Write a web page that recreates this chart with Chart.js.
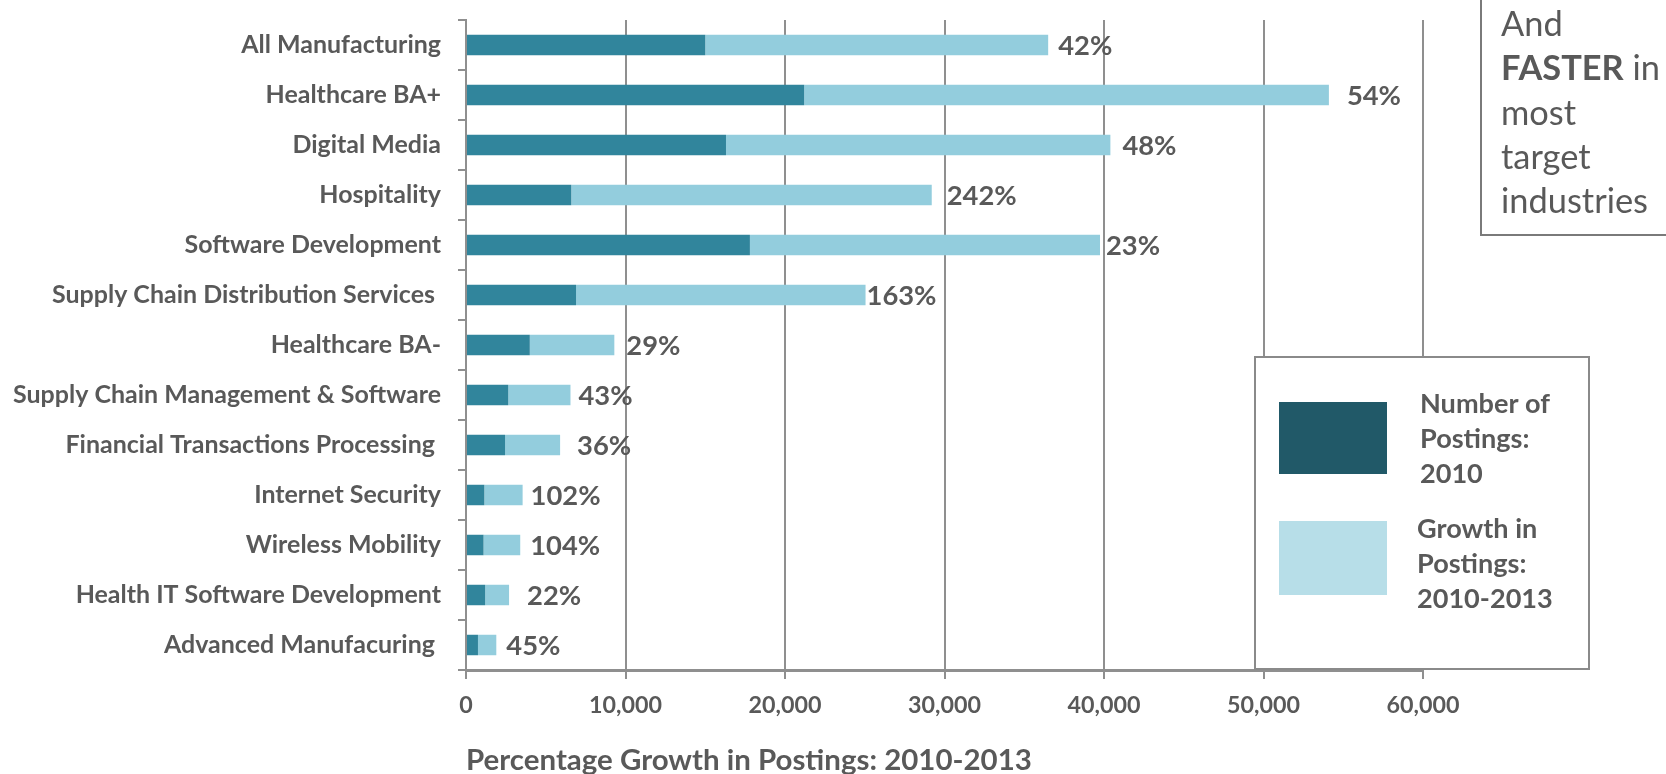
<!DOCTYPE html>
<html>
<head>
<meta charset="utf-8">
<script src="https://cdn.jsdelivr.net/npm/chart.js@4/dist/chart.umd.min.js"></script>
<style>
  html, body { margin: 0; padding: 0; background: #ffffff; }
  #wrap { width: 1666px; height: 774px; position: relative; }
</style>
</head>
<body>
<div id="wrap"><canvas id="c" width="1666" height="774"></canvas></div>
<script>
// ---- data ----
const categories = [
  'All Manufacturing',
  'Healthcare BA+',
  'Digital Media',
  'Hospitality',
  'Software Development',
  'Supply Chain Distribution Services ',
  'Healthcare BA-',
  'Supply Chain Management & Software',
  'Financial Transactions Processing ',
  'Internet Security',
  'Wireless Mobility',
  'Health IT Software Development',
  'Advanced Manufacuring '
];
const postings2010 = [15000, 21200, 16300, 6600, 17800, 6900, 4000, 2650, 2450, 1150, 1100, 1200, 750];
const growth2010to2013 = [21500, 32900, 24100, 22600, 21950, 18150, 5300, 3900, 3450, 2400, 2300, 1500, 1150];
const percentLabels = ['42%', '54%', '48%', '242%', '23%', '163%', '29%', '43%', '36%', '102%', '104%', '22%', '45%'];
const xTickValues = [0, 10000, 20000, 30000, 40000, 50000, 60000];
const seriesNames = ['Number of Postings: 2010', 'Growth in Postings: 2010-2013'];
const axisTitle = 'Percentage Growth in Postings: 2010-2013';
const noteLines = [['And', ''], ['FASTER', ' in'], ['', 'most'], ['', 'target'], ['', 'industries']];

// ---- styling ----
const FONT = 'Lato, "Open Sans", sans-serif';
const TEXT = '#595959';
const GRID = '#8f8f8f';
const DARK = '#31859c';
const LIGHT = '#93cddd';
const LEG_DARK = '#215968';
const LEG_LIGHT = '#b7dee8';
// small horizontal nudges of the percentage labels, as in the original slide
const labelGaps = [10, 18, 12, 15, 6, 1, 12, 8, 17, 8, 10, 18, 10];

const mctx = document.createElement('canvas').getContext('2d');
function fit(text, width, weight) {
  mctx.font = weight + ' 100px ' + FONT;
  return 100 * width / mctx.measureText(text).width;
}
const catSize = fit('Supply Chain Management & Software', 428, 'bold');
const tickSize = fit('10,000', 73, 'bold');
const pctSize = fit('163%', 70, 'bold');
const titleSize = fit(axisTitle, 566, 'bold');
const legSize = fit('Number of', 130, 'bold');
const noteSize = fit('industries', 147, 'normal');

const chartTop = 20, chartBottom = 670, chartLeft = 466, chartRight = 1423;
const xTickLen = 9;
const xTickPad = 705 - chartBottom - xTickLen - tickSize * 1.2 / 2;

const overlay = {
  id: 'overlay',
  afterDatasetsDraw(chart) {
    const ctx = chart.ctx;
    const meta = chart.getDatasetMeta(1);
    ctx.save();
    ctx.fillStyle = TEXT;
    ctx.font = 'bold ' + pctSize + 'px ' + FONT;
    ctx.textAlign = 'left';
    ctx.textBaseline = 'middle';
    meta.data.forEach((bar, i) => {
      ctx.fillText(percentLabels[i], bar.x + labelGaps[i], bar.y + 1);
    });
    ctx.restore();
  },
  afterDraw(chart) {
    const ctx = chart.ctx;
    ctx.save();
    // legend box
    ctx.fillStyle = '#ffffff';
    ctx.fillRect(1255, 357, 334, 312);
    ctx.strokeStyle = '#8a8a8a';
    ctx.lineWidth = 2;
    ctx.strokeRect(1255, 357, 334, 312);
    ctx.fillStyle = LEG_DARK;
    ctx.fillRect(1279, 402, 108, 72);
    ctx.fillStyle = LEG_LIGHT;
    ctx.fillRect(1279, 521, 108, 74);
    ctx.fillStyle = TEXT;
    ctx.font = 'bold ' + legSize + 'px ' + FONT;
    ctx.textAlign = 'left';
    ctx.textBaseline = 'middle';
    const leg1 = ['Number of', 'Postings:', '2010'];
    const leg2 = ['Growth in', 'Postings:', '2010-2013'];
    leg1.forEach((t, i) => ctx.fillText(t, 1420, 404 + i * 35));
    leg2.forEach((t, i) => ctx.fillText(t, 1417, 529 + i * 35));

    // note box (top right)
    ctx.fillStyle = '#ffffff';
    ctx.fillRect(1481, -4, 220, 239);
    ctx.strokeStyle = '#7a7a7a';
    ctx.lineWidth = 2;
    ctx.strokeRect(1481, -4, 220, 239);
    ctx.fillStyle = TEXT;
    noteLines.forEach((parts, i) => {
      const y = 25 + i * 44.3;
      let x = 1501;
      if (parts[0]) {
        ctx.font = (parts[0] === 'And' ? 'normal ' : 'bold ') + noteSize + 'px ' + FONT;
        ctx.fillText(parts[0], x, y);
        x += ctx.measureText(parts[0]).width;
      }
      if (parts[1]) {
        ctx.font = 'normal ' + noteSize + 'px ' + FONT;
        ctx.fillText(parts[1], x, y);
      }
    });
    ctx.restore();
  }
};

new Chart(document.getElementById('c'), {
  type: 'bar',
  data: {
    labels: categories,
    datasets: [
      { label: seriesNames[0], data: postings2010, backgroundColor: DARK, borderWidth: 0,
        barPercentage: 0.41, categoryPercentage: 1 },
      { label: seriesNames[1], data: growth2010to2013, backgroundColor: LIGHT, borderWidth: 0,
        barPercentage: 0.41, categoryPercentage: 1 }
    ]
  },
  options: {
    indexAxis: 'y',
    responsive: false,
    animation: false,
    layout: { padding: { top: chartTop, right: 1666 - chartRight, left: 0, bottom: 0 } },
    plugins: { legend: { display: false }, tooltip: { enabled: false }, title: { display: false } },
    scales: {
      x: {
        stacked: true,
        min: 0, max: 60000,
        afterBuildTicks(scale) { scale.ticks = xTickValues.map(v => ({ value: v })); },
        afterFit(scale) { scale.height = 774 - chartBottom; scale.paddingLeft = 0; scale.paddingRight = 0; },
        ticks: {
          color: TEXT,
          font: { family: FONT, size: tickSize, weight: 'bold', lineHeight: 1.2 },
          padding: xTickPad,
          maxRotation: 0,
          callback: v => Number(v).toLocaleString('en-US')
        },
        grid: { color: GRID, lineWidth: 2, drawTicks: true, tickLength: xTickLen },
        border: { display: true, color: GRID, width: 3 },
        title: {
          display: true, text: axisTitle, align: 'start', color: TEXT,
          font: { family: FONT, size: titleSize, weight: 'bold', lineHeight: '27px' },
          padding: { top: 0, bottom: 0 }
        }
      },
      y: {
        stacked: true,
        afterFit(scale) { scale.width = chartLeft; scale.paddingTop = 0; scale.paddingBottom = 0; },
        ticks: {
          color: TEXT,
          font: { family: FONT, size: catSize, weight: 'bold' },
          padding: 17,
          autoSkip: false
        },
        grid: { display: true, drawOnChartArea: false, drawTicks: true, tickLength: 8, color: GRID, lineWidth: 2, offset: true },
        border: { display: true, color: GRID, width: 2 }
      }
    }
  },
  plugins: [overlay]
});
</script>
</body>
</html>
